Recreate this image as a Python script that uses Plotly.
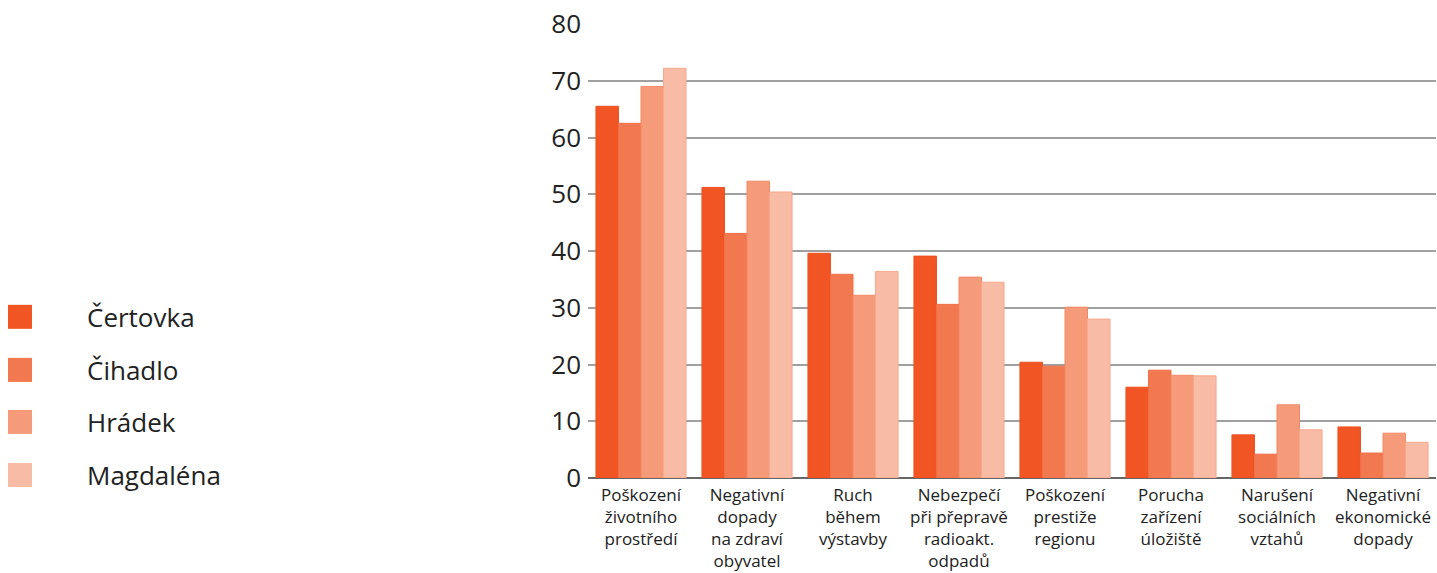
import plotly.graph_objects as go

categories = [
    "Poškození<br>životního<br>prostředí",
    "Negativní<br>dopady<br>na zdraví<br>obyvatel",
    "Ruch<br>během<br>výstavby",
    "Nebezpečí<br>při přepravě<br>radioakt.<br>odpadů",
    "Poškození<br>prestiže<br>regionu",
    "Porucha<br>zařízení<br>úložiště",
    "Narušení<br>sociálních<br>vztahů",
    "Negativní<br>ekonomické<br>dopady",
]
series_names = ["Čertovka", "Čihadlo", "Hrádek", "Magdaléna"]
certovka = [65.5, 51.2, 39.6, 39.1, 20.4, 16.0, 7.6, 9.0]
cihadlo = [62.5, 43.1, 35.9, 30.6, 19.7, 19.0, 4.2, 4.4]
hradek = [69.0, 52.3, 32.2, 35.4, 30.1, 18.1, 12.9, 7.9]
magdalena = [72.2, 50.4, 36.4, 34.5, 28.0, 18.0, 8.5, 6.3]
series_values = [certovka, cihadlo, hradek, magdalena]
y_ticks = [0, 10, 20, 30, 40, 50, 60, 70, 80]

colors = ["#F05523", "#F27850", "#F69B7A", "#F8BBA5"]
line_colors = ["#EE5020", "#F07048", "#F28A66", "#F6A88C"]
FONT = "Open Sans"

fig = go.Figure()
for name, vals, c, lc in zip(series_names, series_values, colors, line_colors):
    fig.add_trace(go.Bar(
        x=categories, y=vals, name=name,
        marker=dict(color=c, line=dict(color=lc, width=1)),
        showlegend=False,
    ))

# manual legend (large square swatches)
shapes = []
annotations = []
legend_y = [317, 370, 422, 475]
for name, c, yc in zip(series_names, colors, legend_y):
    shapes.append(dict(type="rect", xref="paper", yref="paper",
                       x0=(8 - 588) / 848, x1=(32 - 588) / 848,
                       y0=(478 - (yc + 12)) / 453.5, y1=(478 - (yc - 12)) / 453.5,
                       fillcolor=c, line=dict(width=0)))
    annotations.append(dict(xref="paper", yref="paper",
                            x=(85 - 588) / 848, y=(478 - yc) / 453.5,
                            text=name, showarrow=False, xanchor="left", yanchor="middle",
                            font=dict(family=FONT, size=26, color="#222222")))

fig.update_layout(
    width=1437, height=573,
    margin=dict(l=588, r=1, t=24, b=95),
    barmode="group", bargap=0.15, bargroupgap=0,
    plot_bgcolor="white", paper_bgcolor="white",
    font=dict(family=FONT, color="#222222"),
    shapes=shapes, annotations=annotations,
    xaxis=dict(showgrid=False, ticks="", tickangle=0, ticklabelstandoff=5,
               tickfont=dict(family=FONT, size=17, color="#222222")),
    yaxis=dict(range=[0, 80], tickvals=y_ticks, showgrid=True,
               gridcolor="#A0A0A0", gridwidth=1.5, zeroline=True,
               zerolinecolor="#666666", zerolinewidth=1.5,
               ticks="", ticklabelstandoff=6,
               tickfont=dict(family=FONT, size=26, color="#222222")),
)

fig.write_html("out.html")
